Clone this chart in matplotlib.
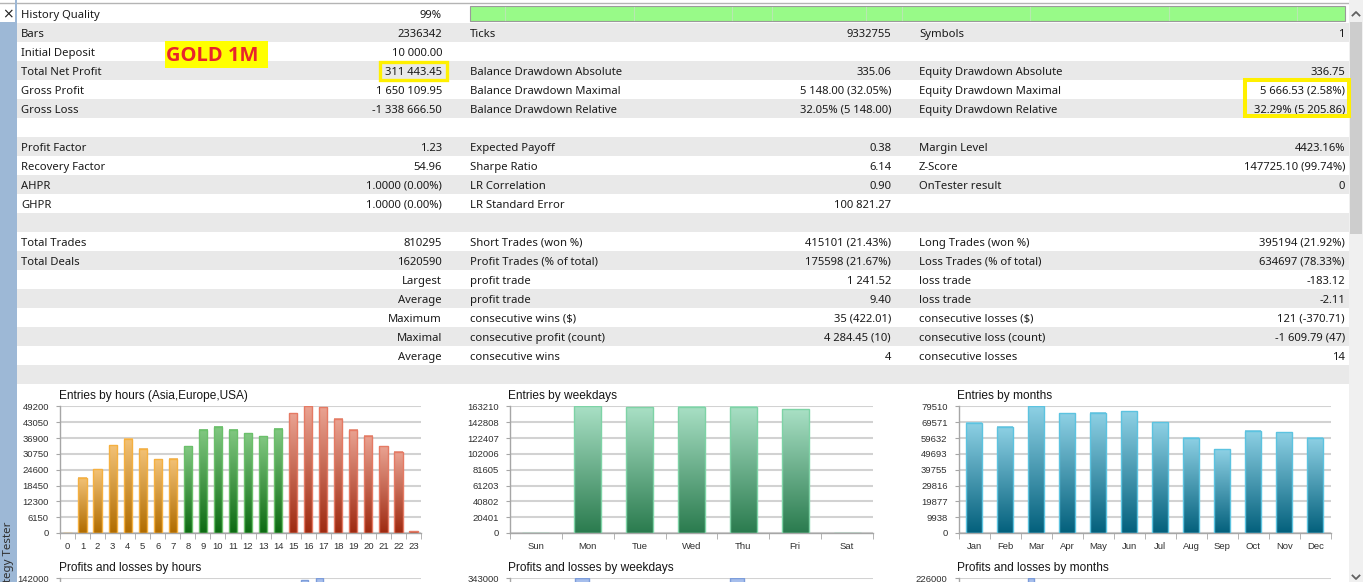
import numpy as np
import matplotlib
matplotlib.use("Agg")
import matplotlib.pyplot as plt
from matplotlib.colors import LinearSegmentedColormap
from matplotlib.patches import Rectangle

# ---------------- data ----------------
col1_labels = ["History Quality", "Bars", "Initial Deposit", "Total Net Profit", "Gross Profit", "Gross Loss", "",
               "Profit Factor", "Recovery Factor", "AHPR", "GHPR", "",
               "Total Trades", "Total Deals", "", "", "", "", ""]
col1_values = ["99%", "2336342", "10 000.00", "311 443.45", "1 650 109.95", "-1 338 666.50", "",
               "1.23", "54.96", "1.0000 (0.00%)", "1.0000 (0.00%)", "",
               "810295", "1620590", "Largest", "Average", "Maximum", "Maximal", "Average"]
col2_labels = ["", "Ticks", "", "Balance Drawdown Absolute", "Balance Drawdown Maximal", "Balance Drawdown Relative", "",
               "Expected Payoff", "Sharpe Ratio", "LR Correlation", "LR Standard Error", "",
               "Short Trades (won %)", "Profit Trades (% of total)", "profit trade", "profit trade",
               "consecutive wins ($)", "consecutive profit (count)", "consecutive wins"]
col2_values = ["", "9332755", "", "335.06", "5 148.00 (32.05%)", "32.05% (5 148.00)", "",
               "0.38", "6.14", "0.90", "100 821.27", "",
               "415101 (21.43%)", "175598 (21.67%)", "1 241.52", "9.40", "35 (422.01)", "4 284.45 (10)", "4"]
col3_labels = ["", "Symbols", "", "Equity Drawdown Absolute", "Equity Drawdown Maximal", "Equity Drawdown Relative", "",
               "Margin Level", "Z-Score", "OnTester result", "", "",
               "Long Trades (won %)", "Loss Trades (% of total)", "loss trade", "loss trade",
               "consecutive losses ($)", "consecutive loss (count)", "consecutive losses"]
col3_values = ["", "1", "", "336.75", "5 666.53 (2.58%)", "32.29% (5 205.86)", "",
               "4423.16%", "147725.10 (99.74%)", "0", "", "",
               "395194 (21.92%)", "634697 (78.33%)", "-183.12", "-2.11", "121 (-370.71)", "-1 609.79 (47)", "14"]

hour_labels = ["0", "1", "2", "3", "4", "5", "6", "7", "8", "9", "10", "11",
               "12", "13", "14", "15", "16", "17", "18", "19", "20", "21", "22", "23"]
entries_hours = [0, 21500, 24700, 34100, 36600, 32800, 28600, 28900, 33700, 40100, 41200, 40100,
                 38800, 37600, 40600, 46500, 49200, 48800, 44400, 40200, 37700, 33700, 31600, 650]
hour_yticks = [0, 6150, 12300, 18450, 24600, 30750, 36900, 43050, 49200]

weekday_labels = ["Sun", "Mon", "Tue", "Wed", "Thu", "Fri", "Sat"]
entries_weekdays = [0, 163210, 162350, 162780, 162780, 159360, 0]
weekday_yticks = [0, 20401, 40802, 61203, 81605, 102006, 122407, 142808, 163210]

month_labels = ["Jan", "Feb", "Mar", "Apr", "May", "Jun", "Jul", "Aug", "Sep", "Oct", "Nov", "Dec"]
entries_months = [69100, 66600, 79510, 75100, 75500, 76400, 69500, 59700, 52600, 64300, 63300, 59700]
month_yticks = [0, 9938, 19877, 29816, 39755, 49693, 59632, 69571, 79510]

# profits/losses charts are cut off by the frame: only these bar tops are visible
pl_hours_idx, pl_hours_profit, pl_hours_top = [16, 17], [138500, 142000], 142000
pl_week_idx, pl_week_profit, pl_week_top = [1, 4], [343000, 343000], 343000
pl_month_idx, pl_month_profit, pl_month_top = [2], [226000], 226000

# ---------------- figure ----------------
W, H = 1363, 582
fig = plt.figure(figsize=(W / 100, H / 100), dpi=100)
fig.patch.set_facecolor("white")
bg = fig.add_axes([0, 0, 1, 1])
bg.set_xlim(0, W)
bg.set_ylim(H, 0)
bg.axis("off")

TFONT = "Noto Sans"
CFONT = "Liberation Sans"
TSIZE = 8.1
TCOL = "#1b1b1b"

# table rows
ROW0, RH = 4, 19
for i in range(20):
    bg.add_patch(Rectangle((17, ROW0 + RH * i), 1349 - 17, RH,
                           facecolor="#FFFFFF" if i % 2 == 0 else "#E9E9E9", edgecolor="none", zorder=0))
bg.plot([0, 1349], [2.5, 2.5], color="#B4B4B4", lw=1, zorder=1)

for i in range(len(col1_labels)):
    y = ROW0 + RH * i + 11.3
    for x, txt, ha in [(21, col1_labels[i], "left"), (442, col1_values[i], "right"),
                       (470, col2_labels[i], "left"), (891, col2_values[i], "right"),
                       (919, col3_labels[i], "left"), (1345, col3_values[i], "right")]:
        if txt:
            bg.text(x, y, txt, ha=ha, va="center", fontsize=TSIZE, family=TFONT, color=TCOL, zorder=3)

# history quality bar
bg.add_patch(Rectangle((470, 6), 875, 15, facecolor="#98FA88", edgecolor="#9A9A9A", lw=0.8, zorder=2))
for sx in [505, 634, 732, 772, 866, 902, 1030, 1169, 1297]:
    bg.plot([sx, sx], [7, 20], color="#B8E8B0", lw=0.8, zorder=2)

# GOLD 1M label
bg.add_patch(Rectangle((165, 41), 103, 27, facecolor="#FFFF00", edgecolor="none", zorder=2))
bg.text(212.5, 56, "GOLD 1M", ha="center", va="center", fontsize=14.5, fontweight="bold",
        family="Open Sans", color="#E8242C", zorder=3)

# highlight boxes
bg.add_patch(Rectangle((379.5, 62), 67, 18, fill=False, edgecolor="#FFF000", lw=2.4, zorder=4))
bg.add_patch(Rectangle((1245.3, 80.3), 103.7, 36, fill=False, edgecolor="#FFF000", lw=2.9, zorder=4))

# left strip
bg.add_patch(Rectangle((0, 22), 16, H - 22, facecolor="#9DB8D6", edgecolor="none", zorder=1))
bg.add_patch(Rectangle((15, 0), 2, H, facecolor="#9DB8D6", edgecolor="none", zorder=1))
bg.text(7.5, 14, "×", ha="center", va="center", fontsize=10, family="DejaVu Sans", color="#202020", zorder=3)
bg.text(9, 521, "Strategy Tester", rotation=90, rotation_mode="anchor", ha="right", va="center",
        fontsize=8.3, family=TFONT, color="#303030", zorder=3)

# right scrollbar
bg.add_patch(Rectangle((1349, 0), 14, H, facecolor="#F0F0F0", edgecolor="none", zorder=1))
bg.add_patch(Rectangle((1350, 22), 12, 212, facecolor="#CDCDCD", edgecolor="none", zorder=2))
bg.plot([1352.5, 1356, 1359.5], [15.5, 12, 15.5], color="#606060", lw=1.3, zorder=3)
bg.plot([1352.5, 1356, 1359.5], [575.5, 579, 575.5], color="#606060", lw=1.3, zorder=3)


def px_axes(x0, y0, x1, y1):
    return fig.add_axes([x0 / W, 1 - y1 / H, (x1 - x0) / W, (y1 - y0) / H])


def style(ax, labels, yticks, ylim, show_x=True):
    n = len(labels)
    ax.set_facecolor("none")
    ax.set_xlim(-0.5, n - 0.5)
    ax.set_ylim(*ylim)
    ax.set_yticks(yticks)
    ax.set_yticklabels([str(t) for t in yticks], family=CFONT)
    ax.grid(axis="y", color="#D2D2D2", lw=1.5)
    ax.set_axisbelow(True)
    for s in ["top", "right"]:
        ax.spines[s].set_visible(False)
    for s in ["left", "bottom"]:
        ax.spines[s].set_color("#A6A6A6")
        ax.spines[s].set_linewidth(1.0)
    ax.tick_params(axis="y", length=3, color="#A6A6A6", labelsize=6.8, pad=5, labelcolor="#303030")
    if show_x:
        ax.set_xticks(range(n))
        ax.set_xticklabels(labels, family=CFONT)
        ax.tick_params(axis="x", which="major", length=0, pad=6.5, labelsize=6.8, labelcolor="#303030")
    else:
        ax.set_xticks([])
    ax.set_xticks(np.arange(-0.5, n), minor=True)
    ax.tick_params(axis="x", which="minor", length=4, color="#A6A6A6")


def gradient_bars(ax, x, vals, width, tops, bottoms, edges):
    bars = ax.bar(x, vals, width=width, facecolor="none", edgecolor=edges, linewidth=1.0, zorder=3)
    grad = np.linspace(0, 1, 256).reshape(-1, 1)
    for b, tc, bc in zip(bars, tops, bottoms):
        h = b.get_height()
        if h <= 0:
            continue
        cmap = LinearSegmentedColormap.from_list("g", [bc, tc])
        ax.imshow(grad, extent=[b.get_x(), b.get_x() + b.get_width(), 0, h], origin="lower",
                  cmap=cmap, aspect="auto", zorder=2, interpolation="bilinear")
    return bars


# ---- Entries by hours ----
ax1 = px_axes(60, 406, 421, 533)
grp_top = {"a": "#F3C277", "e": "#82C882", "u": "#EAA392"}
grp_bot = {"a": "#B06C00", "e": "#0C6A12", "u": "#9E2A10"}
grp_edge = {"a": "#F5B040", "e": "#6BC06B", "u": "#E57A64"}
groups = ["a"] * 8 + ["e"] * 7 + ["u"] * 9
gradient_bars(ax1, range(24), entries_hours, 0.55,
              [grp_top[g] for g in groups], [grp_bot[g] for g in groups], [grp_edge[g] for g in groups])
style(ax1, hour_labels, hour_yticks, (0, hour_yticks[-1] * 1.003))
bg.text(59, 396.5, "Entries by hours (Asia,Europe,USA)", ha="left", va="center", fontsize=8.6,
        family=CFONT, color="#151515", zorder=3)

# ---- Entries by weekdays ----
ax2 = px_axes(510, 406, 873, 533)
gradient_bars(ax2, range(7), entries_weekdays, 0.52, ["#A9E0C5"] * 7, ["#2A7B4E"] * 7, ["#7ED3A6"] * 7)
style(ax2, weekday_labels, weekday_yticks, (0, weekday_yticks[-1] * 1.003))
bg.text(508, 396.5, "Entries by weekdays", ha="left", va="center", fontsize=8.6,
        family=CFONT, color="#151515", zorder=3)

# ---- Entries by months ----
ax3 = px_axes(958.7, 406, 1330.7, 533)
gradient_bars(ax3, range(12), entries_months, 0.5, ["#8ED1E5"] * 12, ["#03607C"] * 12, ["#5CC3E0"] * 12)
style(ax3, month_labels, month_yticks, (0, month_yticks[-1] * 1.003))
bg.text(957, 396.5, "Entries by months", ha="left", va="center", fontsize=8.6,
        family=CFONT, color="#151515", zorder=3)

# ---- Profits and losses (cut off) ----
pl_specs = [
    ((60, 421), hour_labels, pl_hours_idx, pl_hours_profit, pl_hours_top, -0.245, 0.45,
     "Profits and losses by hours", 59),
    ((510, 873), weekday_labels, pl_week_idx, pl_week_profit, pl_week_top, -0.115, 0.27,
     "Profits and losses by weekdays", 508),
    ((958.7, 1330.7), month_labels, pl_month_idx, pl_month_profit, pl_month_top, -0.165, 0.2,
     "Profits and losses by months", 957),
]
for (x0, x1), labels, idx, vals, top, off, wd, title, tx in pl_specs:
    ax = px_axes(x0, 578.3, x1, 578.3 + 127)
    ax.bar([i + off for i in idx], vals, width=wd, color="#A6BEEC", edgecolor="#7D9DDA", lw=1.0, zorder=3)
    style(ax, labels, [top], (-top, top * 1.003), show_x=False)
    bg.text(tx, 567.5, title, ha="left", va="center", fontsize=8.6, family=CFONT, color="#151515", zorder=3)

fig.savefig("out.png", dpi=100, facecolor="white")
